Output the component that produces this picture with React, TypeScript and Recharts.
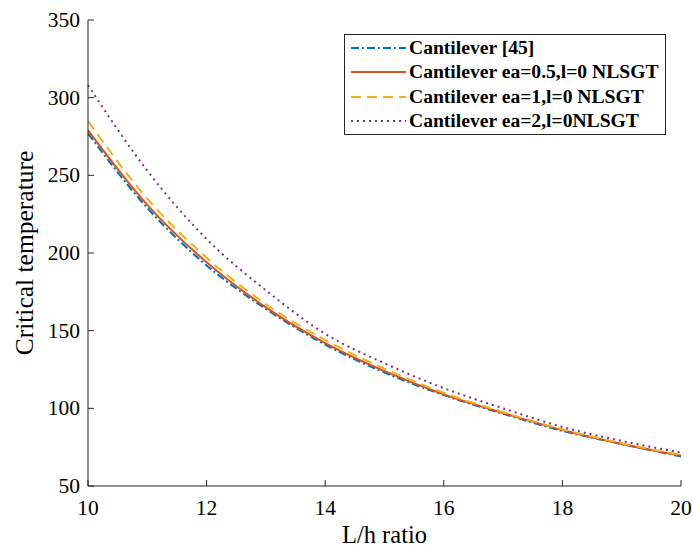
import { LineChart, Line, XAxis, YAxis } from "recharts";

const ratios = [10, 11, 12, 13, 14, 15, 16, 17, 18, 19, 20];
const ref45 = [277, 229, 192, 164, 141, 123, 108.5, 96.5, 85.5, 77, 69];
const ea05 = [279, 231, 194, 165, 142, 124, 109, 97, 86, 77, 69.5];
const ea1 = [285, 235, 197, 167, 144, 125.5, 110, 97.5, 86.5, 77.5, 70];
const ea2 = [308, 253, 209, 176, 148, 129, 113, 100, 88, 79, 71.5];

const xTicks = [10, 12, 14, 16, 18, 20];
const yTicks = [50, 100, 150, 200, 250, 300, 350];

const series = [
  { key: "ref45", name: "Cantilever [45]", color: "#0072BD", dash: "8 3 2 3" },
  { key: "ea05", name: "Cantilever ea=0.5,l=0 NLSGT", color: "#D95319", dash: "" },
  { key: "ea1", name: "Cantilever ea=1,l=0 NLSGT", color: "#EDB120", dash: "10 6" },
  { key: "ea2", name: "Cantilever ea=2,l=0NLSGT", color: "#7E2F8E", dash: "2 4" },
];

const data = ratios.map((r, i) => ({
  r,
  ref45: ref45[i],
  ea05: ea05[i],
  ea1: ea1[i],
  ea2: ea2[i],
}));

const FONT = "'Liberation Serif', 'Times New Roman', serif";
const AXIS = "#262626";
const TICK = 6;

const BottomTick = (props: any) => {
  const { x, y, payload } = props;
  return (
    <g>
      <line x1={x} y1={y} x2={x} y2={y - TICK} stroke={AXIS} />
      <text x={x} y={y + 29} textAnchor="middle" fontSize={21.5} fontFamily={FONT} fill="#000">
        {payload.value}
      </text>
    </g>
  );
};

const TopTick = (props: any) => {
  const { x, y } = props;
  return <line x1={x} y1={y} x2={x} y2={y + TICK} stroke={AXIS} />;
};

const LeftTick = (props: any) => {
  const { x, y, payload } = props;
  return (
    <g>
      <line x1={x} y1={y} x2={x + TICK} y2={y} stroke={AXIS} />
      <text x={x - 8} y={y + 7} textAnchor="end" fontSize={21.5} fontFamily={FONT} fill="#000">
        {payload.value}
      </text>
    </g>
  );
};

const RightTick = (props: any) => {
  const { x, y } = props;
  return <line x1={x} y1={y} x2={x - TICK} y2={y} stroke={AXIS} />;
};

// legend box, drawn over the plot in the top right like MATLAB's "northeast"
const LegendBox = () => (
  <div
    style={{
      position: "absolute",
      left: 344,
      top: 34,
      border: `1px solid ${AXIS}`,
      background: "#fff",
      width: 322,
      height: 101,
      boxSizing: "border-box",
      paddingTop: 1,
      fontFamily: FONT,
      fontWeight: "bold",
      fontSize: 19.6,
      color: "#000",
    }}
  >
    {series.map((s) => (
      <div key={s.key} style={{ display: "flex", alignItems: "center", height: 24.3 }}>
        <svg width={64} height={6} style={{ flex: "none" }}>
          <line
            x1={6}
            y1={3}
            x2={61}
            y2={3}
            stroke={s.color}
            strokeWidth={2}
            strokeDasharray={s.dash || undefined}
          />
        </svg>
        <span style={{ whiteSpace: "nowrap" }}>{s.name}</span>
      </div>
    ))}
  </div>
);

function App() {
  return (
    <div style={{ position: "absolute", left: 0, top: 0, width: 692, height: 550 }}>
      <LineChart
        width={692}
        height={550}
        data={data}
        margin={{ top: 20, right: 11, left: 0, bottom: 4 }}
      >
        <XAxis
          dataKey="r"
          type="number"
          domain={[10, 20]}
          ticks={xTicks}
          tick={<BottomTick />}
          tickLine={false}
          tickSize={0}
          tickMargin={0}
          height={60}
          axisLine={{ stroke: AXIS }}
          label={{
            value: "L/h ratio",
            position: "insideBottom",
            offset: 3,
            fontSize: 24.5,
            fontFamily: FONT,
            fill: "#000",
          }}
        />
        <XAxis
          xAxisId="top"
          orientation="top"
          dataKey="r"
          type="number"
          domain={[10, 20]}
          ticks={xTicks}
          tick={<TopTick />}
          tickLine={false}
          tickSize={0}
          tickMargin={0}
          height={0}
          axisLine={{ stroke: AXIS }}
          allowDataOverflow
        />
        <YAxis
          type="number"
          domain={[50, 350]}
          ticks={yTicks}
          tick={<LeftTick />}
          tickLine={false}
          tickSize={0}
          tickMargin={0}
          width={88}
          axisLine={{ stroke: AXIS }}
          allowDataOverflow
          label={{
            value: "Critical temperature",
            angle: -90,
            position: "insideLeft",
            offset: 24,
            fontSize: 25.5,
            fontFamily: FONT,
            fill: "#000",
            style: { textAnchor: "middle" },
          }}
        />
        <YAxis
          yAxisId="right"
          orientation="right"
          type="number"
          domain={[50, 350]}
          ticks={yTicks}
          tick={<RightTick />}
          tickLine={false}
          tickSize={0}
          tickMargin={0}
          width={0}
          axisLine={{ stroke: AXIS }}
          allowDataOverflow
        />
        {series.map((s) => (
          <Line
            key={s.key}
            type="monotone"
            dataKey={s.key}
            name={s.name}
            stroke={s.color}
            strokeWidth={2}
            strokeDasharray={s.dash || undefined}
            dot={false}
            activeDot={false}
            isAnimationActive={false}
          />
        ))}
      </LineChart>
      <LegendBox />
    </div>
  );
}

export default App;
